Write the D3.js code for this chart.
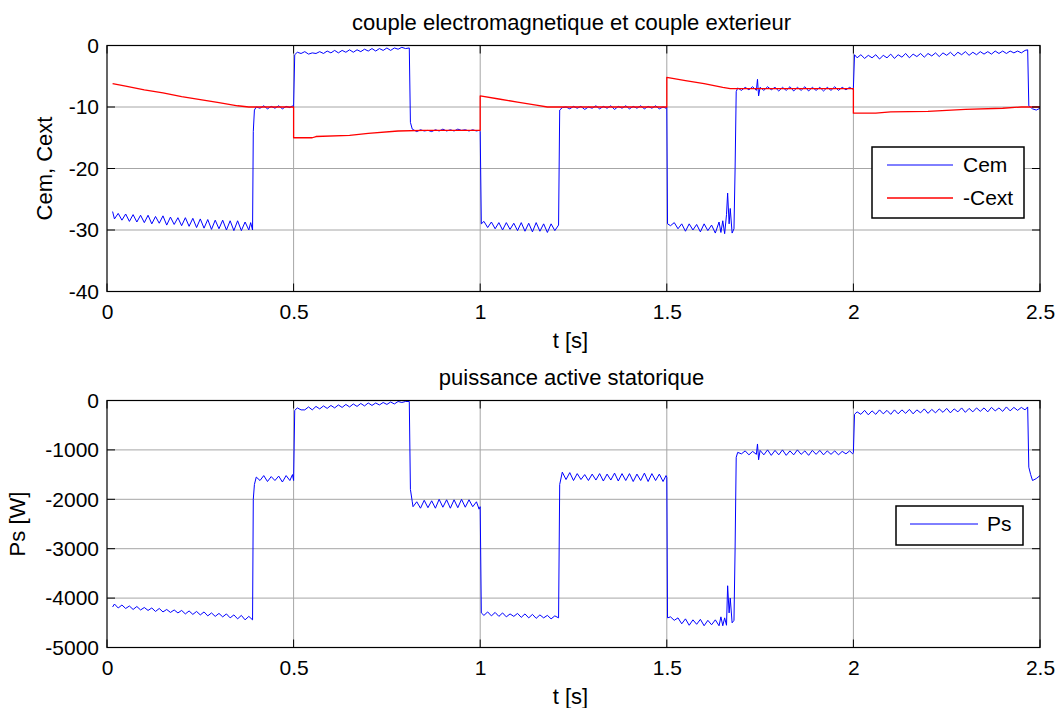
<!DOCTYPE html>
<html>
<head>
<meta charset="utf-8">
<script src="https://cdn.jsdelivr.net/npm/d3@7"></script>
<style>
  html, body { margin: 0; padding: 0; background: #fff; }
  svg { display: block; font-family: "Liberation Sans", Arial, sans-serif; }
</style>
</head>
<body>
<svg id="chart" width="1059" height="708"></svg>
<script>
// ---------------- DATA ----------------
const timeTicks = [0, 0.5, 1, 1.5, 2, 2.5];
const timeTickLabels = ["0", "0.5", "1", "1.5", "2", "2.5"];
const torqueTicks = [0, -10, -20, -30, -40];
const torqueTickLabels = ["0", "-10", "-20", "-30", "-40"];
const powerTicks = [0, -1000, -2000, -3000, -4000, -5000];
const powerTickLabels = ["0", "-1000", "-2000", "-3000", "-4000", "-5000"];

const titleTop = "couple electromagnetique et couple exterieur";
const titleBottom = "puissance active statorique";
const xLabel = "t [s]";
const yLabelTop = "Cem, Cext";
const yLabelBottom = "Ps [W]";
const legendTop = ["Cem", "-Cext"];
const legendBottom = ["Ps"];

// Cem : [t, value]
const cem = [
[0.015,-27.0],[0.02,-28.2],[0.03,-27.3],[0.04,-28.4],[0.05,-27.4],[0.06,-28.6],[0.07,-27.5],[0.08,-28.7],[0.09,-27.6],[0.10,-28.8],
[0.11,-27.6],[0.12,-29.0],[0.13,-27.8],[0.14,-28.9],[0.15,-27.7],[0.16,-29.2],[0.17,-27.9],[0.18,-29.1],[0.19,-28.0],[0.20,-29.3],
[0.21,-28.0],[0.22,-29.4],[0.23,-28.1],[0.24,-29.6],[0.25,-28.2],[0.26,-29.7],[0.27,-28.3],[0.28,-29.9],[0.29,-28.4],[0.30,-29.8],
[0.31,-28.4],[0.32,-30.0],[0.33,-28.5],[0.34,-30.1],[0.35,-28.5],[0.36,-30.1],[0.37,-28.7],[0.38,-30.0],[0.385,-28.8],[0.39,-30.0],
[0.392,-14.0],[0.395,-10.5],[0.40,-10.0],
[0.41,-10.2],[0.42,-9.8],[0.43,-10.3],[0.44,-9.9],[0.45,-10.2],[0.46,-9.8],[0.47,-10.3],[0.48,-9.9],[0.49,-10.1],[0.497,-9.8],[0.50,-10.0],
[0.503,-1.5],
[0.51,-1.1],[0.52,-1.3],[0.53,-1.0],[0.54,-1.4],[0.55,-1.2],[0.56,-1.3],[0.57,-1.0],[0.58,-1.3],[0.59,-0.9],[0.60,-1.2],
[0.61,-0.8],[0.62,-1.2],[0.63,-0.8],[0.64,-1.1],[0.65,-0.7],[0.66,-1.1],[0.67,-0.7],[0.68,-1.0],[0.69,-0.6],[0.70,-0.9],
[0.71,-0.5],[0.72,-0.9],[0.73,-0.5],[0.74,-0.8],[0.75,-0.4],[0.76,-0.8],[0.77,-0.4],[0.78,-0.6],[0.79,-0.3],[0.80,-0.5],[0.81,-0.4],
[0.813,-12.5],[0.818,-13.6],
[0.83,-14.0],[0.84,-13.7],[0.85,-13.9],[0.86,-13.8],[0.87,-14.0],[0.88,-13.7],[0.89,-13.9],[0.90,-13.6],[0.91,-13.9],[0.92,-13.7],
[0.93,-13.9],[0.94,-13.6],[0.95,-13.8],[0.96,-13.7],[0.97,-13.9],[0.98,-13.7],[0.99,-13.9],[0.997,-13.8],
[1.0,-14.0],[1.003,-29.0],
[1.01,-28.6],[1.02,-29.6],[1.03,-28.7],[1.04,-29.8],[1.05,-28.8],[1.06,-30.0],[1.07,-28.8],[1.08,-29.9],[1.09,-28.9],[1.10,-30.1],
[1.11,-28.8],[1.12,-30.2],[1.13,-28.9],[1.14,-30.3],[1.15,-28.8],[1.16,-30.2],[1.17,-29.0],[1.18,-30.4],[1.19,-29.0],[1.20,-30.1],[1.21,-29.2],
[1.213,-10.5],[1.22,-10.1],
[1.23,-10.0],[1.24,-10.3],[1.25,-9.9],[1.26,-10.2],[1.27,-9.9],[1.28,-10.4],[1.29,-10.0],[1.30,-10.2],[1.31,-9.8],[1.32,-10.3],
[1.33,-9.9],[1.34,-10.2],[1.35,-9.8],[1.36,-10.4],[1.37,-9.9],[1.38,-10.2],[1.39,-9.8],[1.40,-10.3],[1.41,-9.9],[1.42,-10.2],
[1.43,-9.8],[1.44,-10.3],[1.45,-9.9],[1.46,-10.2],[1.47,-9.8],[1.48,-10.3],[1.49,-10.0],[1.498,-10.2],
[1.5,-10.0],[1.502,-29.0],
[1.51,-29.3],[1.52,-28.8],[1.53,-29.8],[1.54,-29.0],[1.55,-30.2],[1.56,-29.0],[1.57,-30.0],[1.58,-29.1],[1.59,-30.3],[1.60,-29.0],
[1.61,-30.1],[1.62,-29.2],[1.63,-30.5],[1.64,-28.7],[1.645,-30.4],[1.65,-28.5],[1.655,-30.6],[1.66,-27.5],[1.663,-24.0],[1.667,-29.0],
[1.67,-26.5],[1.675,-30.5],[1.68,-29.8],[1.683,-20.0],[1.686,-7.5],[1.69,-6.9],
[1.70,-7.3],[1.71,-6.8],[1.72,-7.2],[1.73,-6.7],[1.74,-7.3],[1.743,-5.5],[1.746,-8.2],[1.75,-6.8],[1.76,-7.3],[1.77,-6.7],
[1.78,-7.2],[1.79,-6.8],[1.80,-7.4],[1.81,-6.8],[1.82,-7.3],[1.83,-6.7],[1.84,-7.4],[1.85,-6.8],[1.86,-7.3],[1.87,-6.7],
[1.88,-7.4],[1.89,-6.8],[1.90,-7.3],[1.91,-6.8],[1.92,-7.4],[1.93,-6.8],[1.94,-7.3],[1.95,-6.7],[1.96,-7.3],[1.97,-6.8],
[1.98,-7.2],[1.99,-6.8],[1.998,-7.1],
[2.0,-6.9],[2.003,-1.5],
[2.01,-2.0],[2.02,-1.5],[2.03,-2.1],[2.04,-1.6],[2.05,-2.0],[2.06,-1.5],[2.07,-2.2],[2.08,-1.6],[2.09,-2.0],[2.10,-1.4],
[2.11,-2.1],[2.12,-1.5],[2.13,-1.9],[2.14,-1.3],[2.15,-2.0],[2.16,-1.4],[2.17,-1.8],[2.18,-1.3],[2.19,-1.9],[2.20,-1.3],
[2.21,-1.7],[2.22,-1.2],[2.23,-1.8],[2.24,-1.2],[2.25,-1.6],[2.26,-1.1],[2.27,-1.7],[2.28,-1.1],[2.29,-1.5],[2.30,-1.0],
[2.31,-1.6],[2.32,-1.1],[2.33,-1.5],[2.34,-1.0],[2.35,-1.4],[2.36,-1.0],[2.37,-1.4],[2.38,-0.9],[2.39,-1.3],[2.40,-0.9],
[2.41,-1.3],[2.42,-0.9],[2.43,-1.2],[2.44,-0.9],[2.45,-1.2],[2.46,-0.8],[2.467,-0.7],
[2.47,-9.8],[2.48,-10.3],[2.49,-10.5],[2.5,-10.2]
];

// -Cext : [t, value]
const cext = [
[0.015,-6.2],[0.05,-6.6],[0.10,-7.2],[0.15,-7.7],[0.20,-8.3],[0.25,-8.8],[0.30,-9.3],[0.35,-9.8],[0.38,-10.0],[0.50,-10.0],
[0.50,-15.0],[0.55,-15.0],[0.56,-14.8],[0.65,-14.6],[0.70,-14.3],[0.78,-13.9],[0.85,-13.8],[1.00,-13.8],
[1.00,-8.2],[1.05,-8.7],[1.10,-9.2],[1.15,-9.7],[1.18,-10.0],[1.50,-10.0],
[1.50,-5.2],[1.55,-5.7],[1.60,-6.2],[1.65,-6.8],[1.67,-7.0],[2.00,-7.0],
[2.00,-11.0],[2.06,-11.0],[2.10,-10.8],[2.20,-10.7],[2.30,-10.4],[2.40,-10.2],[2.45,-10.0],[2.50,-10.0]
];

// Ps : [t, value]
const ps = [
[0.015,-4180],[0.02,-4120],[0.03,-4200],[0.04,-4140],[0.05,-4210],[0.06,-4160],[0.07,-4230],[0.08,-4170],[0.09,-4240],[0.10,-4190],
[0.11,-4250],[0.12,-4200],[0.13,-4270],[0.14,-4210],[0.15,-4280],[0.16,-4230],[0.17,-4290],[0.18,-4240],[0.19,-4300],[0.20,-4250],
[0.21,-4320],[0.22,-4260],[0.23,-4330],[0.24,-4270],[0.25,-4340],[0.26,-4280],[0.27,-4360],[0.28,-4300],[0.29,-4370],[0.30,-4310],
[0.31,-4380],[0.32,-4320],[0.33,-4400],[0.34,-4340],[0.35,-4420],[0.36,-4350],[0.37,-4440],[0.38,-4370],[0.39,-4440],
[0.392,-2000],[0.395,-1700],[0.40,-1550],
[0.41,-1620],[0.42,-1520],[0.43,-1640],[0.44,-1540],[0.45,-1620],[0.46,-1530],[0.47,-1650],[0.48,-1520],[0.49,-1620],[0.497,-1500],[0.50,-1620],
[0.503,-200],
[0.51,-150],[0.52,-190],[0.53,-190],[0.54,-130],[0.55,-190],[0.56,-120],[0.57,-170],[0.58,-110],[0.59,-160],[0.60,-100],
[0.61,-150],[0.62,-90],[0.63,-140],[0.64,-80],[0.65,-130],[0.66,-70],[0.67,-120],[0.68,-60],[0.69,-110],[0.70,-50],
[0.71,-100],[0.72,-50],[0.73,-90],[0.74,-40],[0.75,-80],[0.76,-30],[0.77,-70],[0.78,-20],[0.79,-40],[0.80,-20],[0.81,-20],
[0.813,-1800],[0.818,-2050],
[0.82,-2150],[0.83,-2050],[0.84,-2180],[0.85,-2020],[0.86,-2170],[0.87,-2030],[0.88,-2180],[0.89,-2000],[0.90,-2160],[0.91,-2010],
[0.92,-2180],[0.93,-2010],[0.94,-2170],[0.95,-2000],[0.96,-2160],[0.97,-2010],[0.98,-2150],[0.99,-2050],[0.997,-2200],
[1.0,-2150],[1.003,-4300],
[1.01,-4350],[1.02,-4280],[1.03,-4360],[1.04,-4290],[1.05,-4370],[1.06,-4300],[1.07,-4380],[1.08,-4320],[1.09,-4370],[1.10,-4310],
[1.11,-4390],[1.12,-4320],[1.13,-4400],[1.14,-4330],[1.15,-4410],[1.16,-4340],[1.17,-4400],[1.18,-4350],[1.19,-4420],[1.20,-4360],[1.21,-4400],
[1.213,-1700],[1.22,-1450],
[1.23,-1600],[1.24,-1460],[1.25,-1620],[1.26,-1480],[1.27,-1600],[1.28,-1500],[1.29,-1620],[1.30,-1490],[1.31,-1610],[1.32,-1480],
[1.33,-1630],[1.34,-1490],[1.35,-1610],[1.36,-1470],[1.37,-1630],[1.38,-1480],[1.39,-1620],[1.40,-1480],[1.41,-1640],[1.42,-1490],
[1.43,-1620],[1.44,-1470],[1.45,-1640],[1.46,-1480],[1.47,-1620],[1.48,-1490],[1.49,-1640],[1.498,-1520],
[1.5,-1560],[1.502,-4400],
[1.51,-4380],[1.52,-4450],[1.53,-4400],[1.54,-4520],[1.55,-4420],[1.56,-4550],[1.57,-4440],[1.58,-4530],[1.59,-4430],[1.60,-4560],
[1.61,-4450],[1.62,-4540],[1.63,-4440],[1.64,-4560],[1.645,-4380],[1.65,-4560],[1.655,-4400],[1.66,-4550],[1.663,-3750],[1.667,-4300],
[1.67,-4000],[1.675,-4500],[1.68,-4450],[1.683,-3000],[1.686,-1150],[1.69,-1050],
[1.70,-1080],[1.71,-1020],[1.72,-1100],[1.73,-1030],[1.74,-1090],[1.743,-880],[1.746,-1200],[1.75,-1010],[1.76,-1100],[1.77,-1000],
[1.78,-1110],[1.79,-1010],[1.80,-1100],[1.81,-1000],[1.82,-1110],[1.83,-1020],[1.84,-1100],[1.85,-1000],[1.86,-1090],[1.87,-1020],
[1.88,-1110],[1.89,-1010],[1.90,-1090],[1.91,-1010],[1.92,-1100],[1.93,-1020],[1.94,-1090],[1.95,-1020],[1.96,-1100],[1.97,-1030],
[1.98,-1080],[1.99,-1020],[1.998,-1080],
[2.0,-1050],[2.003,-280],
[2.01,-230],[2.02,-280],[2.03,-200],[2.04,-290],[2.05,-210],[2.06,-280],[2.07,-190],[2.08,-270],[2.09,-200],[2.10,-280],
[2.11,-190],[2.12,-270],[2.13,-190],[2.14,-260],[2.15,-180],[2.16,-270],[2.17,-190],[2.18,-250],[2.19,-170],[2.20,-260],
[2.21,-180],[2.22,-250],[2.23,-170],[2.24,-240],[2.25,-160],[2.26,-250],[2.27,-170],[2.28,-230],[2.29,-150],[2.30,-240],
[2.31,-160],[2.32,-230],[2.33,-150],[2.34,-220],[2.35,-150],[2.36,-230],[2.37,-140],[2.38,-210],[2.39,-150],[2.40,-220],
[2.41,-130],[2.42,-210],[2.43,-140],[2.44,-200],[2.45,-140],[2.46,-190],[2.467,-130],
[2.47,-1350],[2.475,-1500],[2.48,-1620],[2.49,-1580],[2.5,-1520]
];

// ---------------- DRAW ----------------
const svg = d3.select("#chart");
const FONT = "\"Liberation Sans\", Arial, sans-serif";
const X0 = 107, X1 = 1040;

const panels = [
  { top: 45.5, bottom: 291.5, domain: [-40, 0], ticks: torqueTicks, tickLabels: torqueTickLabels, title: titleTop, titleY: 30,
    xlabY: 348, ylab: yLabelTop, ylabX: 52, tickPad: 12.5,
    series: [{ data: cem, color: "#0000ff", w: 1 },
             { data: cext, color: "#ff0000", w: 1.3 }],
    legend: { x: 872, y: 147, w: 152, h: 71, names: legendTop, colors: ["#0000ff", "#ff0000"], rows: [165, 198], lx0: 887, lx1: 953, tx: 963 } },
  { top: 400.5, bottom: 647.5, domain: [-5000, 0], ticks: powerTicks, tickLabels: powerTickLabels, title: titleBottom, titleY: 385,
    xlabY: 704, ylab: yLabelBottom, ylabX: 25, tickPad: 13,
    series: [{ data: ps, color: "#0000ff", w: 1 }],
    legend: { x: 896, y: 506, w: 127, h: 39, names: legendBottom, colors: ["#0000ff"], rows: [524], lx0: 910, lx1: 978, tx: 987 } }
];

const x = d3.scaleLinear().domain([0, 2.5]).range([X0, X1]);

panels.forEach((p, i) => {
  const y = d3.scaleLinear().domain(p.domain).range([p.bottom, p.top]);
  const g = svg.append("g");

  g.append("rect").attr("x", X0).attr("y", p.top).attr("width", X1 - X0).attr("height", p.bottom - p.top).attr("fill", "#fff");

  // grid
  g.selectAll(".gx").data(timeTicks.slice(1, -1)).enter().append("line")
    .attr("x1", d => x(d)).attr("x2", d => x(d)).attr("y1", p.top).attr("y2", p.bottom)
    .attr("stroke", "#a6a6a6").attr("stroke-width", 1);
  g.selectAll(".gy").data(p.ticks.slice(1, -1)).enter().append("line")
    .attr("x1", X0).attr("x2", X1).attr("y1", d => y(d)).attr("y2", d => y(d))
    .attr("stroke", "#a6a6a6").attr("stroke-width", 1);

  const clipId = "clip" + i;
  svg.append("clipPath").attr("id", clipId).append("rect")
    .attr("x", X0).attr("y", p.top - 1).attr("width", X1 - X0).attr("height", p.bottom - p.top + 2);

  // series
  p.series.forEach(s => {
    const line = d3.line().x(d => x(d[0])).y(d => y(d[1]));
    g.append("path").datum(s.data).attr("d", line).attr("fill", "none")
      .attr("stroke", s.color).attr("stroke-width", s.w).attr("stroke-linejoin", "round")
      .attr("clip-path", `url(#${clipId})`);
  });

  // ticks (inside, all four sides)
  const TL = 8;
  timeTicks.forEach(t => {
    g.append("line").attr("x1", x(t)).attr("x2", x(t)).attr("y1", p.bottom).attr("y2", p.bottom - TL).attr("stroke", "#000");
    g.append("line").attr("x1", x(t)).attr("x2", x(t)).attr("y1", p.top).attr("y2", p.top + TL).attr("stroke", "#000");
  });
  p.ticks.forEach(v => {
    g.append("line").attr("x1", X0).attr("x2", X0 + TL).attr("y1", y(v)).attr("y2", y(v)).attr("stroke", "#000");
    g.append("line").attr("x1", X1).attr("x2", X1 - TL).attr("y1", y(v)).attr("y2", y(v)).attr("stroke", "#000");
  });

  // box
  g.append("rect").attr("x", X0).attr("y", p.top).attr("width", X1 - X0).attr("height", p.bottom - p.top)
    .attr("fill", "none").attr("stroke", "#000").attr("stroke-width", 1.2);

  // tick labels via d3 axes
  const xAxis = d3.axisBottom(x).tickValues(timeTicks).tickFormat((d, k) => timeTickLabels[k]).tickSize(0).tickPadding(p.tickPad);
  const ax = svg.append("g").attr("transform", `translate(0,${p.bottom})`).call(xAxis);
  ax.select(".domain").remove();
  ax.selectAll("text").attr("font-size", 21).attr("font-family", FONT).attr("fill", "#000");

  const yAxis = d3.axisLeft(y).tickValues(p.ticks).tickFormat((d, k) => p.tickLabels[k]).tickSize(0).tickPadding(8);
  const ay = svg.append("g").attr("transform", `translate(${X0},0)`).call(yAxis);
  ay.select(".domain").remove();
  ay.selectAll("text").attr("font-size", 21).attr("font-family", FONT).attr("fill", "#000");

  // title
  svg.append("text").attr("x", (X0 + X1) / 2 - 2).attr("y", p.titleY).attr("text-anchor", "middle")
    .attr("font-size", 22).attr("font-family", FONT).text(p.title);
  // x label
  svg.append("text").attr("x", (X0 + X1) / 2 - 3).attr("y", p.xlabY).attr("text-anchor", "middle")
    .attr("font-size", 22).attr("font-family", FONT).text(xLabel);
  // y label
  svg.append("text").attr("transform", `translate(${p.ylabX},${(p.top + p.bottom) / 2}) rotate(-90)`)
    .attr("text-anchor", "middle").attr("font-size", 22).attr("font-family", FONT).text(p.ylab);

  // legend
  const L = p.legend;
  const lg = svg.append("g");
  lg.append("rect").attr("x", L.x).attr("y", L.y).attr("width", L.w).attr("height", L.h)
    .attr("fill", "#fff").attr("stroke", "#000").attr("stroke-width", 1.5);
  L.names.forEach((n, k) => {
    lg.append("line").attr("x1", L.lx0).attr("x2", L.lx1).attr("y1", L.rows[k]).attr("y2", L.rows[k])
      .attr("stroke", L.colors[k]).attr("stroke-width", k === 1 ? 1.3 : 1);
    lg.append("text").attr("x", L.tx).attr("y", L.rows[k]).attr("dy", "0.35em")
      .attr("font-size", 21).attr("font-family", FONT).text(n);
  });
});
</script>
</body>
</html>
